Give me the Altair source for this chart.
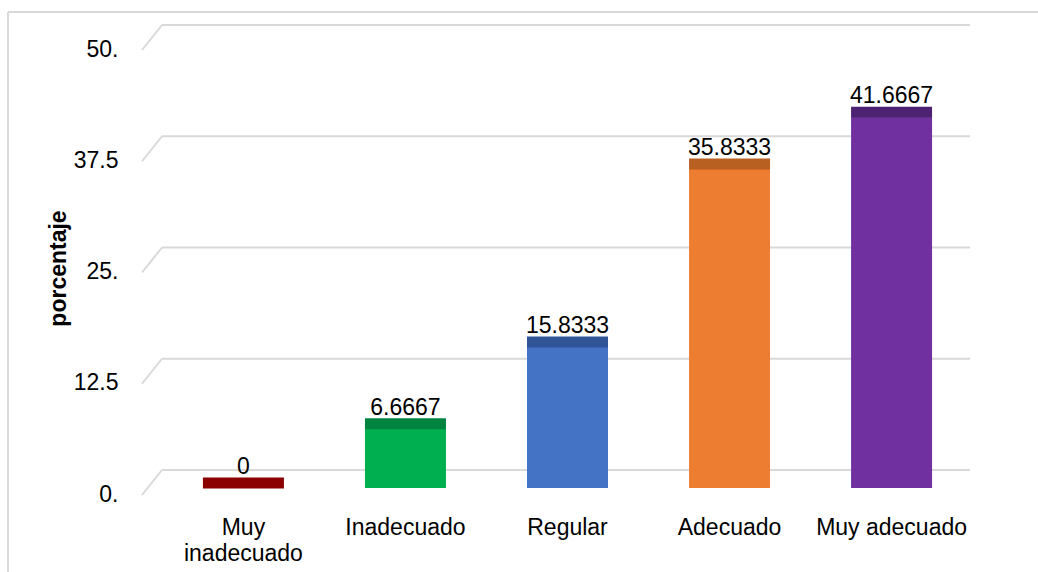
import altair as alt
import pandas as pd

# Survey result: share of responses per rating level (percent)
categories = ["Muy inadecuado", "Inadecuado", "Regular", "Adecuado", "Muy adecuado"]
values = [0, 6.6667, 15.8333, 35.8333, 41.6667]
labels = ["0", "6.6667", "15.8333", "35.8333", "41.6667"]
front_colors = ["#8B0000", "#00B050", "#4472C4", "#ED7D31", "#7030A0"]
top_colors = ["#8B0000", "#00843F", "#2F5597", "#B85F22", "#4E2272"]
tick_values = [0, 12.5, 25, 37.5, 50]

df = pd.DataFrame({
    "categoria": categories,
    "porcentaje": values,
    "etiqueta": labels,
    "frente": front_colors,
    "tapa": top_colors,
})
grid_df = pd.DataFrame({"v": tick_values})

FONT = "Liberation Sans"
FS = 23

x_enc = alt.X(
    "categoria:N",
    sort=categories,
    title=None,
    scale=alt.Scale(paddingInner=0.5, paddingOuter=0.45),
    axis=alt.Axis(
        labelExpr="datum.label == 'Muy inadecuado' ? ['Muy', 'inadecuado'] : datum.label",
        labelFontSize=FS,
        labelFont=FONT,
        labelColor="#000000",
        labelPadding=28,
        labelLineHeight=26,
        labelAngle=0,
        domain=False,
        ticks=False,
    ),
)
y_scale = alt.Scale(domain=[0, 50], nice=False)

# back-plane gridlines with a short diagonal leading in from each tick label
grid = alt.Chart(grid_df).mark_rule(color="#D9D9D9", strokeWidth=2, yOffset=-18).encode(
    y=alt.Y("v:Q", scale=y_scale),
    x=alt.value(32),
    x2=alt.value(840),
)
diag = alt.Chart(grid_df).mark_rule(color="#D9D9D9", strokeWidth=2, yOffset=7, y2Offset=-18).encode(
    y=alt.Y("v:Q", scale=y_scale),
    y2="v:Q",
    x=alt.value(12),
    x2=alt.value(32),
)

bars = alt.Chart(df).mark_bar(size=81, opacity=1).encode(
    x=x_enc,
    y=alt.Y(
        "porcentaje:Q",
        scale=y_scale,
        title="porcentaje",
        axis=alt.Axis(
            values=tick_values,
            labelExpr="datum.value % 1 == 0 ? datum.value + '.' : format(datum.value, '.1f')",
            labelFontSize=FS,
            labelFont=FONT,
            labelColor="#000000",
            labelPadding=12,
            labelOffset=6,
            grid=False,
            domain=False,
            ticks=False,
            titleFont=FONT,
            titleFontSize=FS,
            titleFontWeight="bold",
            titleColor="#000000",
            titleX=-60,
            titleY=225,
        ),
    ),
    color=alt.Color("frente:N", scale=None),
)

tops = alt.Chart(df).mark_tick(thickness=11, size=81, yOffset=-5, opacity=1).encode(
    x=alt.X("categoria:N", sort=categories),
    y=alt.Y("porcentaje:Q", scale=y_scale),
    color=alt.Color("tapa:N", scale=None),
)

texts = alt.Chart(df).mark_text(
    baseline="bottom", dy=-9, fontSize=FS, font=FONT, color="#000000"
).encode(
    x=alt.X("categoria:N", sort=categories),
    y=alt.Y("porcentaje:Q", scale=y_scale),
    text="etiqueta:N",
)

# outer frame: top and left border lines
frame_top = alt.Chart(grid_df.head(1)).mark_rule(color="#D9D9D9", strokeWidth=2).encode(
    x=alt.value(-122), x2=alt.value(910), y=alt.value(-31)
)
frame_left = alt.Chart(grid_df.head(1)).mark_rule(color="#D9D9D9", strokeWidth=2).encode(
    x=alt.value(-122), y=alt.value(-31), y2=alt.value(529)
)

chart = (
    alt.layer(frame_top, frame_left, grid, diag, bars, tops, texts)
    .properties(
        width=875,
        height=445,
        autosize=alt.AutoSizeParams(type="none"),
        padding={"left": 130, "top": 43, "right": 33, "bottom": 84},
        background="#FFFFFF",
    )
    .configure_view(stroke=None)
)

chart.save("out.html", embed_options={"renderer": "svg", "actions": False})
